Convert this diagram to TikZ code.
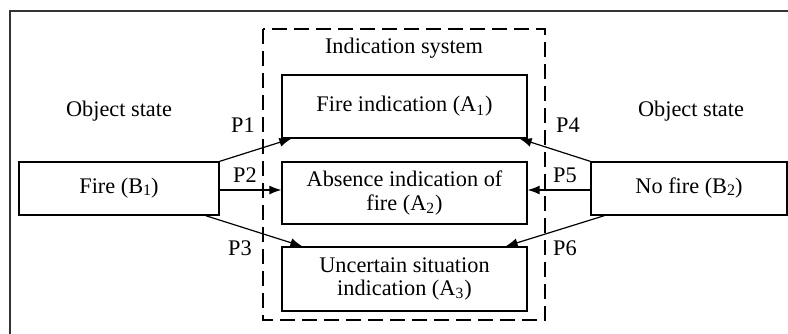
\documentclass[tikz,border=0pt]{standalone}
\usepackage{fontspec}
\setmainfont{Liberation Serif}
\usetikzlibrary{arrows.meta,calc}
\newcommand{\subB}[1]{\raisebox{-0.15ex}{\fontsize{8}{9}\selectfont #1}}
\begin{document}
\begin{tikzpicture}[x=0.5pt,y=-0.5pt,
  every node/.style={font=\fontsize{11.15}{11.6}\selectfont},
  box/.style={draw, line width=0.65pt, inner sep=0pt, align=center},
  conn/.style={line width=0.6pt, -{Latex[length=6pt,width=4.5pt]}},
  plab/.style={inner sep=0pt}]
\useasboundingbox (0,0) rectangle (788,333);
% outer frame (cut off at right and bottom)
\draw[line width=0.6pt, black!80] (10,345) -- (10,11) -- (800,11);
% indication system
\draw[line width=0.6pt, dash pattern=on 7.5pt off 3.5pt] (263,29) rectangle (545,320);
\node[plab] (sys) at (404,48) {Indication system};
\node[box, minimum width=122.5pt, minimum height=31.5pt] (fireind) at (404.5,106.5) {Fire indication (A\textsubscript{1})};
\node[box, minimum width=122.5pt, minimum height=31pt] (absence) at (404.5,193) {Absence indication of\\fire (A\textsubscript{2})};
\node[box, minimum width=122.5pt, minimum height=32pt] (uncert) at (404.5,279) {Uncertain situation\\indication (A\textsubscript{3})};
% object states
\node[plab] (osl) at (119,111) {Object state};
\node[plab] (osr) at (691,111) {Object state};
\node[box, minimum width=100pt, minimum height=26.5pt] (fire) at (119,188.5) {Fire (B\subB{1})};
\node[box, minimum width=98pt, minimum height=26.5pt] (nofire) at (689,188.5) {No fire (B\subB{2})};
% connectors
\draw[conn] (fire.north east) -- ($(fireind.south west)+(10,0)$);
\draw[conn] ($(fire.east)+(0,1.5)$) -- ($(fire.east -| absence.west)+(0,1.5)$);
\draw[conn] ($(fire.south east)+(-14,0)$) -- ($(uncert.north west)+(21,0)$);
\draw[conn] (nofire.north west) -- ($(fireind.south east)+(-8,0)$);
\draw[conn] ($(nofire.west)+(0,1.5)$) -- ($(nofire.west -| absence.east)+(0,1.5)$);
\draw[conn] ($(nofire.south west)+(14,0)$) -- ($(uncert.north east)+(-22,0)$);
% labels
\node[plab] (p1) at (243,125) {P1};
\node[plab] (p2) at (245,175) {P2};
\node[plab] (p3) at (240,248) {P3};
\node[plab] (p4) at (568,125) {P4};
\node[plab] (p5) at (565,175) {P5};
\node[plab] (p6) at (565,248) {P6};
\end{tikzpicture}
\end{document}
